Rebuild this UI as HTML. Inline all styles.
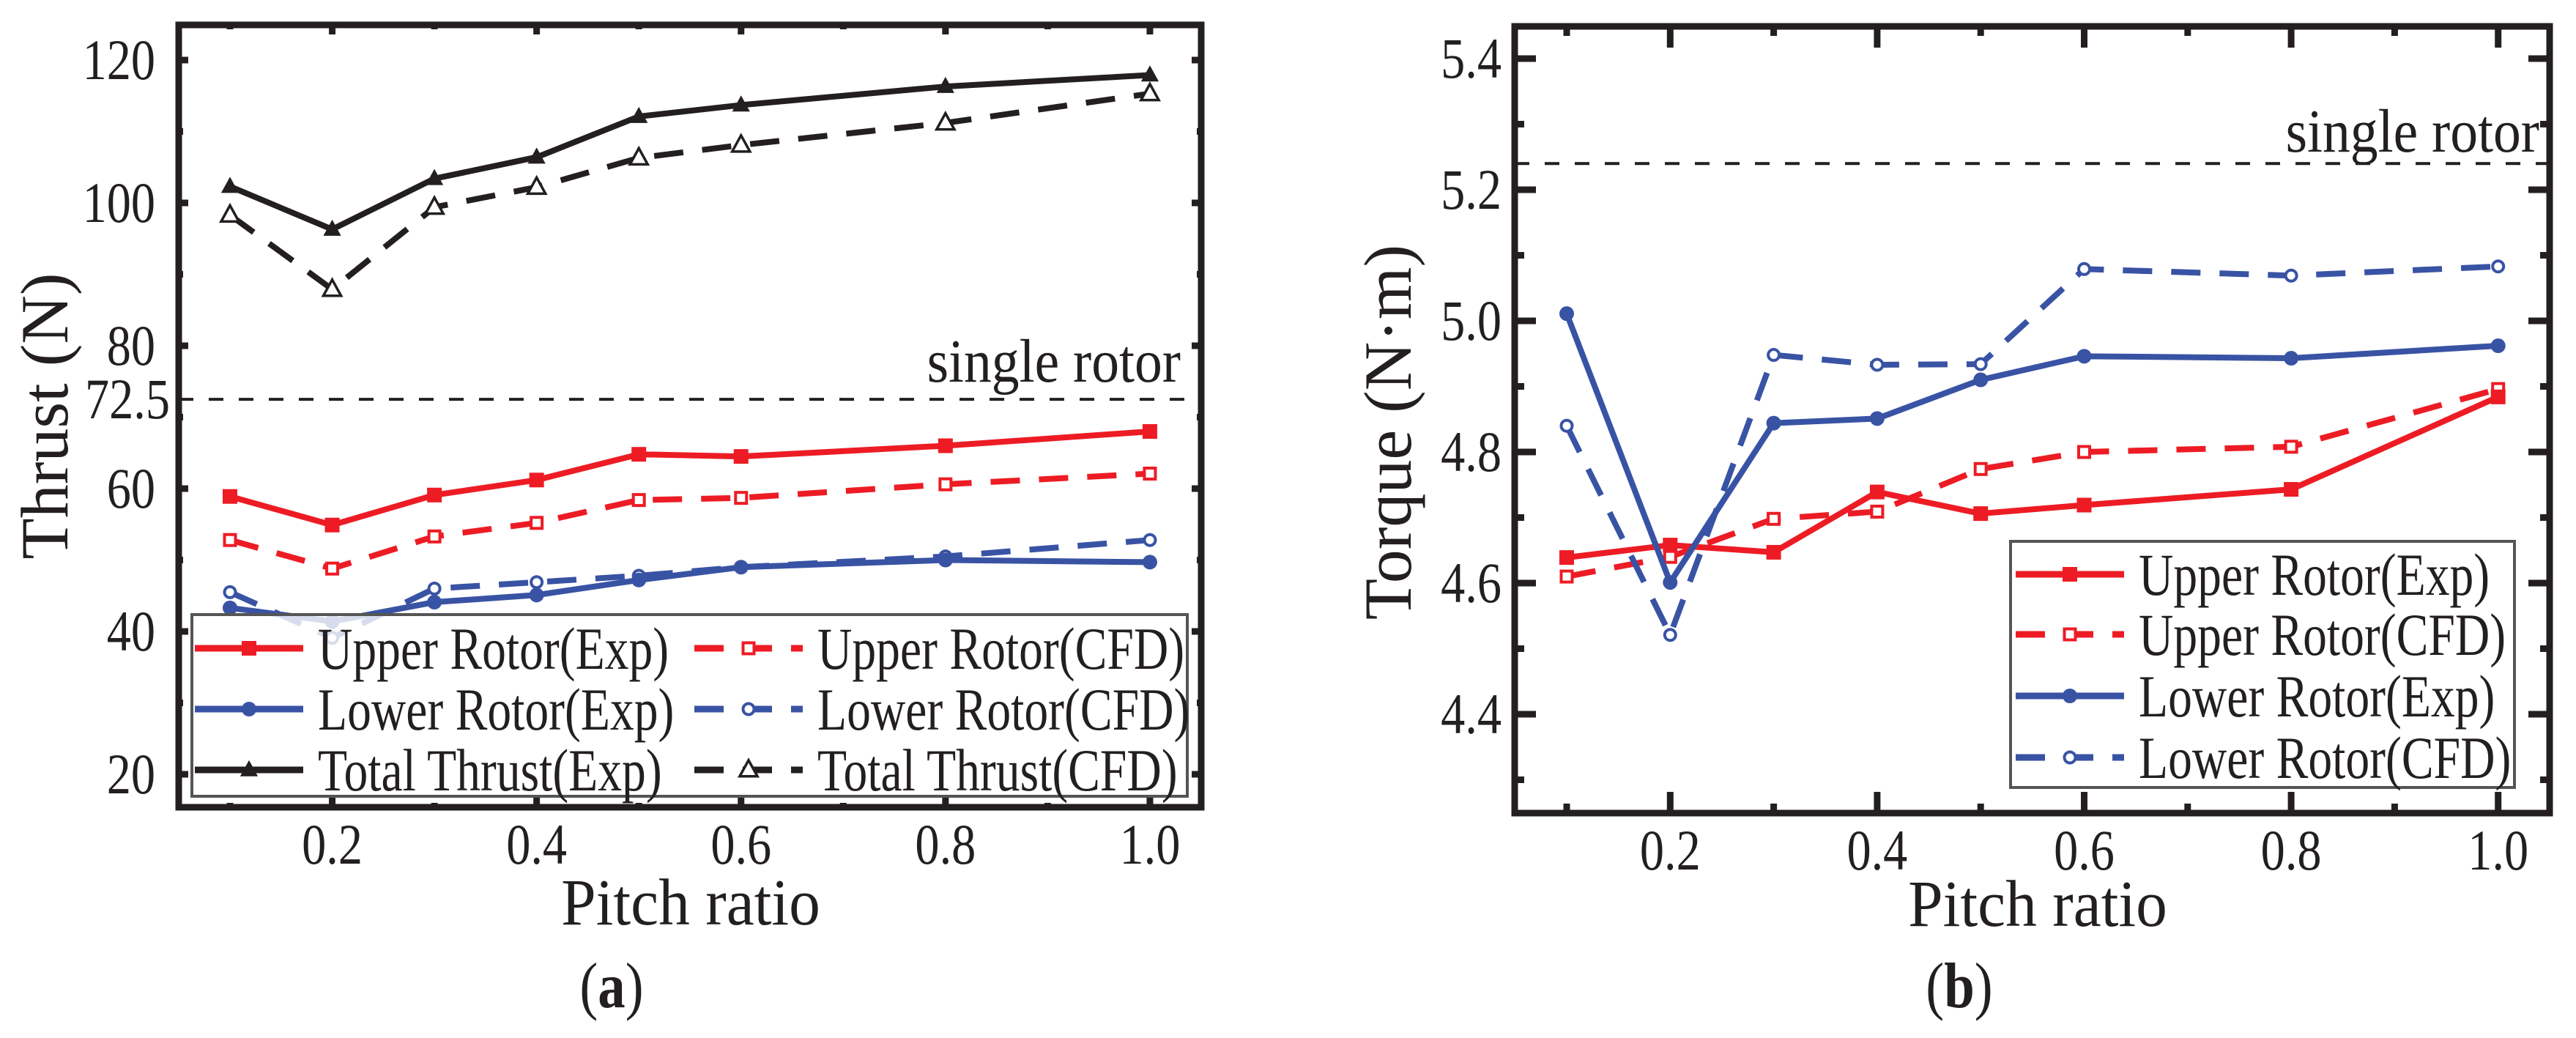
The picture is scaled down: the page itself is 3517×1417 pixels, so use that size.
<!DOCTYPE html>
<html><head><meta charset="utf-8"><style>
html,body{margin:0;padding:0;background:#fff;}
svg{display:block;}
text{font-family:"Liberation Serif","DejaVu Serif",serif;}
</style></head><body>
<svg id="fig" width="3517" height="1417" viewBox="0 0 3517 1417" xmlns="http://www.w3.org/2000/svg">
<g id="pa"></g>
<g id="pb"></g>
<text transform="translate(835,1375) scale(0.85,1)" font-size="88" text-anchor="middle" fill="#231f20" font-family="Liberation Serif, serif">(<tspan font-weight="bold">a</tspan>)</text>
<text transform="translate(2675,1375) scale(0.85,1)" font-size="88" text-anchor="middle" fill="#231f20" font-family="Liberation Serif, serif">(<tspan font-weight="bold">b</tspan>)</text>
</svg>
<script>
const pitch = [0.1,0.2,0.3,0.4,0.5,0.6,0.8,1.0];
const xTicks = ["0.2","0.4","0.6","0.8","1.0"];
// thrust (N)
const totalExpA = [102.3,96.3,103.4,106.4,112.1,113.7,116.3,117.9];
const totalCfdA = [98.3,87.9,99.4,102.2,106.3,108.1,111.2,115.3];
const upperExpA = [58.9,54.9,59.1,61.2,64.8,64.5,66.0,68.0];
const upperCfdA = [52.8,48.8,53.3,55.2,58.4,58.7,60.6,62.1];
const lowerExpA = [43.3,41.4,44.1,45.1,47.2,49.0,50.0,49.7];
const lowerCfdA = [45.5,39.1,46.0,46.9,47.8,49.0,50.5,52.8];
const yTicksA = ["20","40","60","80","100","120"];
const singleThrust = 72.5;
// torque (N·m)
const upperExpB = [4.639,4.658,4.647,4.739,4.706,4.719,4.743,4.884];
const upperCfdB = [4.610,4.640,4.698,4.709,4.774,4.800,4.808,4.896];
const lowerExpB = [5.011,4.601,4.844,4.851,4.910,4.946,4.943,4.962];
const lowerCfdB = [4.840,4.521,4.948,4.933,4.934,5.079,5.069,5.083];
const yTicksB = ["4.4","4.6","4.8","5.0","5.2","5.4"];
const singleTorque = 5.24;

const NS="http://www.w3.org/2000/svg";
const RED="#ed1c24", BLUE="#3953a4", BLK="#231f20";
function mk(parent,tag,attrs){const e=document.createElementNS(NS,tag);for(const k in attrs)e.setAttribute(k,attrs[k]);parent.appendChild(e);return e;}

function marker(g,type,cx,cy,color,filled,s){
  let e;
  if(type==='sq'){e=mk(g,'rect',{x:cx-s/2,y:cy-s/2,width:s,height:s,fill:filled?color:'#fff',stroke:color,'stroke-width':filled?0:4});}
  else if(type==='ci'){e=mk(g,'circle',{cx:cx,cy:cy,r:s/2,fill:filled?color:'#fff',stroke:color,'stroke-width':filled?0:4});}
  else {e=mk(g,'polygon',{points:`${cx},${cy-s*0.6} ${cx-s*0.55},${cy+s*0.4} ${cx+s*0.55},${cy+s*0.4}`,fill:filled?color:'#fff',stroke:color,'stroke-width':filled?0:3.5});}
  
  
}

function series(g,xs,ys,X,Y,color,dashed,type,name){
  const sg=mk(g,'g',{});
  
  
  const pts=xs.map((v,i)=>X(v)+','+Y(ys[i])).join(' ');
  const pl=mk(sg,'polyline',{points:pts,fill:'none',stroke:color,'stroke-width':8,'stroke-dasharray':dashed?'40 26':'none','stroke-linejoin':'miter'});
  
  
  xs.forEach((v,i)=>marker(sg,type,X(v),Y(ys[i]),color,!dashed,type==='tr'?22:(dashed?15:20)));
}

function frame(g,L,T,R,B,X,Y,xmaj,xmin,ymaj,ymin,majL,minL){
  const f=mk(g,'rect',{x:L,y:T,width:R-L,height:B-T,fill:'none',stroke:BLK,'stroke-width':9});
  
  
  const tk=mk(g,'g',{stroke:BLK,'stroke-width':9});
  
  
  xmaj.forEach(v=>{const x=X(v);mk(tk,'line',{x1:x,y1:B,x2:x,y2:B-majL});mk(tk,'line',{x1:x,y1:T,x2:x,y2:T+majL});});
  xmin.forEach(v=>{const x=X(v);mk(tk,'line',{x1:x,y1:B,x2:x,y2:B-minL});mk(tk,'line',{x1:x,y1:T,x2:x,y2:T+minL});});
  ymaj.forEach(v=>{const y=Y(v);mk(tk,'line',{x1:L,y1:y,x2:L+majL,y2:y});mk(tk,'line',{x1:R,y1:y,x2:R-majL,y2:y});});
  ymin.forEach(v=>{const y=Y(v);mk(tk,'line',{x1:L,y1:y,x2:L+minL,y2:y});mk(tk,'line',{x1:R,y1:y,x2:R-minL,y2:y});});
}

function txt(g,x,y,s,size,anchor,name,sx,rot){
  const t=mk(g,'text',{x:0,y:0,'font-size':size,'text-anchor':anchor,fill:BLK,'font-family':'Liberation Serif, serif',
    transform:`translate(${x},${y})${rot?' rotate(-90)':''} scale(${sx},1)`});
  t.textContent=s;
  
  
  return t;
}

function legendEntry(g,x,y,color,dashed,type,label){
  const e=mk(g,'g',{});
  
  
  mk(e,'line',{x1:x,y1:y,x2:x+148,y2:y,stroke:color,'stroke-width':9,'stroke-dasharray':dashed?'40 26':'none'});
  marker(e,type,x+74,y,color,!dashed,type==='tr'?22:(dashed?15:20));
  txt(e,x+168,y+28,label,82,'start','legend-label',0.8);
}

// ---- panel a ----
(function(){
  const g=document.getElementById('pa');
  const L=244,T=34,R=1640,B=1102;
  const X=v=>314+(v-0.1)*1395.5;
  const Y=v=>82+(120-v)*9.75;
  frame(g,L,T,R,B,X,Y,[0.2,0.4,0.6,0.8,1.0],[0.1,0.3,0.5,0.7,0.9],[20,40,60,80,100,120],[30,50,70,90,110],13,6);
  const sl=mk(g,'line',{x1:L,y1:Y(singleThrust),x2:R,y2:Y(singleThrust),stroke:BLK,'stroke-width':4,'stroke-dasharray':'20 21'});
  
  
  txt(g,1612,Y(singleThrust)-24,'single rotor',84,'end','single-rotor-label',0.9);
  series(g,pitch,upperCfdA,X,Y,RED,true,'sq','upper-rotor-cfd');
  series(g,pitch,upperExpA,X,Y,RED,false,'sq','upper-rotor-exp');
  series(g,pitch,lowerCfdA,X,Y,BLUE,true,'ci','lower-rotor-cfd');
  series(g,pitch,lowerExpA,X,Y,BLUE,false,'ci','lower-rotor-exp');
  series(g,pitch,totalCfdA,X,Y,BLK,true,'tr','total-thrust-cfd');
  series(g,pitch,totalExpA,X,Y,BLK,false,'tr','total-thrust-exp');
  yTicksA.forEach(s=>txt(g,212,Y(+s)+26,s,78,'end','y-tick-label',0.85));
  txt(g,232,Y(72.5)+26,'72.5',78,'end','y-tick-label-single',0.85);
  xTicks.forEach(s=>txt(g,X(+s),1179,s,78,'middle','x-tick-label',0.85));
  txt(g,943,1262,'Pitch ratio',90,'middle','x-axis-title',0.95);
  txt(g,92,568,'Thrust (N)',92,'middle','y-axis-title',1.0,true);
  const lg=mk(g,'g',{});
  
  
  const lb=mk(lg,'rect',{x:262,y:839,width:1359,height:248,fill:'#fff','fill-opacity':0.8,stroke:'#555','stroke-width':4});
  
  
  legendEntry(lg,266,885,RED,false,'sq','Upper Rotor(Exp)');
  legendEntry(lg,266,968,BLUE,false,'ci','Lower Rotor(Exp)');
  legendEntry(lg,266,1051,BLK,false,'tr','Total Thrust(Exp)');
  legendEntry(lg,948,885,RED,true,'sq','Upper Rotor(CFD)');
  legendEntry(lg,948,968,BLUE,true,'ci','Lower Rotor(CFD)');
  legendEntry(lg,948,1051,BLK,true,'tr','Total Thrust(CFD)');
})();

// ---- panel b ----
(function(){
  const g=document.getElementById('pb');
  const L=2068,T=36,R=3481,B=1110;
  const X=v=>2139+(v-0.1)*1413;
  const Y=v=>80+(5.4-v)*895;
  frame(g,L,T,R,B,X,Y,[0.2,0.4,0.6,0.8,1.0],[0.1,0.3,0.5,0.7,0.9],[4.4,4.6,4.8,5.0,5.2,5.4],[4.3,4.5,4.7,4.9,5.1,5.3],29,13);
  const sl=mk(g,'line',{x1:L,y1:Y(singleTorque),x2:R,y2:Y(singleTorque),stroke:BLK,'stroke-width':4,'stroke-dasharray':'20 21'});
  
  
  txt(g,3467,Y(singleTorque)-16,'single rotor',84,'end','single-rotor-label',0.9);
  series(g,pitch,upperCfdB,X,Y,RED,true,'sq','upper-rotor-cfd');
  series(g,pitch,lowerCfdB,X,Y,BLUE,true,'ci','lower-rotor-cfd');
  series(g,pitch,upperExpB,X,Y,RED,false,'sq','upper-rotor-exp');
  series(g,pitch,lowerExpB,X,Y,BLUE,false,'ci','lower-rotor-exp');
  yTicksB.forEach(s=>txt(g,2050,Y(+s)+26,s,78,'end','y-tick-label',0.85));
  xTicks.forEach(s=>txt(g,X(+s),1187,s,78,'middle','x-tick-label',0.85));
  txt(g,2782,1264,'Pitch ratio',90,'middle','x-axis-title',0.95);
  txt(g,1926,590,'Torque (N·m)',92,'middle','y-axis-title',1.0,true);
  const lg=mk(g,'g',{});
  
  
  const lb=mk(lg,'rect',{x:2745,y:739,width:688,height:336,fill:'#fff','fill-opacity':0.8,stroke:'#555','stroke-width':4});
  
  
  legendEntry(lg,2752,784,RED,false,'sq','Upper Rotor(Exp)');
  legendEntry(lg,2752,866,RED,true,'sq','Upper Rotor(CFD)');
  legendEntry(lg,2752,950,BLUE,false,'ci','Lower Rotor(Exp)');
  legendEntry(lg,2752,1034,BLUE,true,'ci','Lower Rotor(CFD)');
})();
</script>
</body></html>
